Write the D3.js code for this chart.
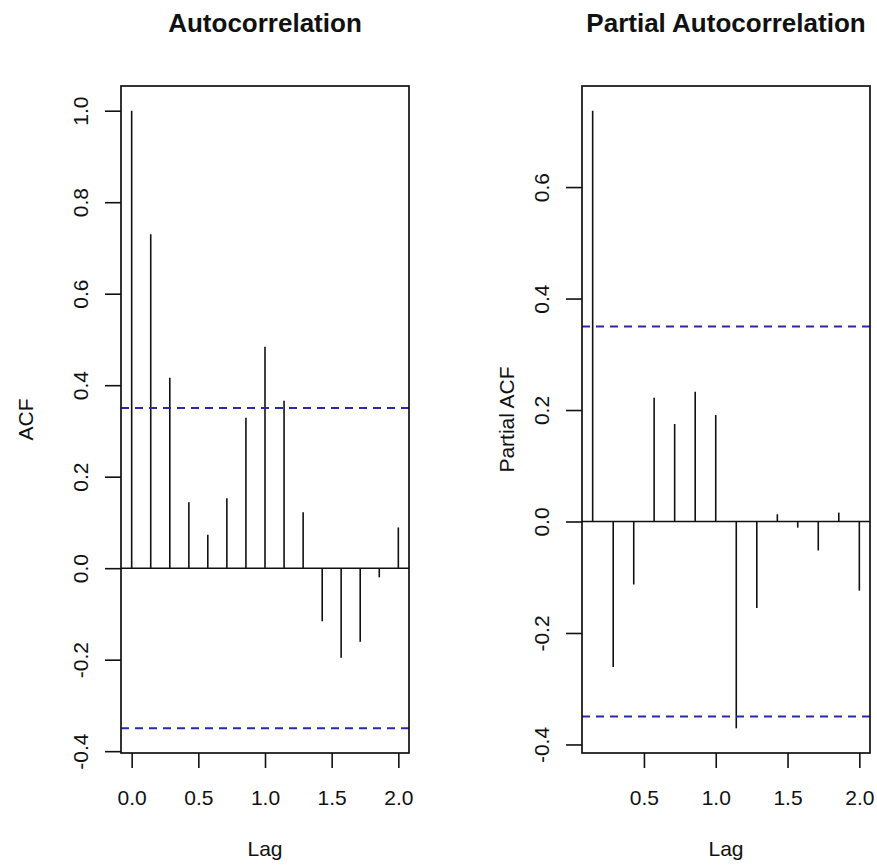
<!DOCTYPE html>
<html>
<head>
<meta charset="utf-8">
<script src="https://cdn.jsdelivr.net/npm/d3@7"></script>
<style>
  body { margin: 0; background: #fff; }
  text { font-family: Arial, "Liberation Sans", sans-serif; fill: #111; }
</style>
</head>
<body>
<div id="chart"></div>
<script>
// values
var acfLags = [0, 0.143, 0.286, 0.429, 0.571, 0.714, 0.857, 1.0, 1.143, 1.286, 1.429, 1.571, 1.714, 1.857, 2.0];
var acfValues = [1.0, 0.730, 0.416, 0.144, 0.073, 0.153, 0.329, 0.484, 0.366, 0.122, -0.116, -0.196, -0.161, -0.020, 0.089];
var pacfLags = [0.143, 0.286, 0.429, 0.571, 0.714, 0.857, 1.0, 1.143, 1.286, 1.429, 1.571, 1.714, 1.857, 2.0];
var pacfValues = [0.737, -0.261, -0.113, 0.222, 0.175, 0.233, 0.191, -0.371, -0.155, 0.013, -0.011, -0.052, 0.016, -0.124];
var confLimit = 0.35;
var lagTicks = [0, 0.5, 1.0, 1.5, 2.0];
var pacfLagTicks = [0.5, 1.0, 1.5, 2.0];
var acfTicks = [-0.4, -0.2, 0.0, 0.2, 0.4, 0.6, 0.8, 1.0];
var pacfTicks = [-0.4, -0.2, 0.0, 0.2, 0.4, 0.6];

var svg = d3.select("#chart").append("svg")
  .attr("width", 877)
  .attr("height", 866);

svg.append("rect").attr("width", 877).attr("height", 866).attr("fill", "#fff");

// R style range: data range widened by 4% on each side
function padded(vals) {
  var ext = d3.extent(vals);
  var d = (ext[1] - ext[0]) * 0.04;
  return [ext[0] - d, ext[1] + d];
}

function drawPanel(opt) {
  var left = opt.left, top = 86, w = 288, h = 667;
  var g = svg.append("g").attr("transform", "translate(" + left + "," + top + ")");

  var x = d3.scaleLinear()
    .domain(padded(opt.lags))
    .range([0, w]);
  var y = d3.scaleLinear()
    .domain(padded(opt.values.concat([confLimit, -confLimit])))
    .range([h, 0]);

  var fmt = function(d) { return d.toFixed(1); };

  // y axis
  var yAxis = g.append("g")
    .call(d3.axisLeft(y).tickValues(opt.yTicks).tickSize(16).tickSizeOuter(0).tickFormat(fmt));
  yAxis.selectAll("line").attr("stroke", "#111").attr("stroke-width", 1.6);
  yAxis.select(".domain").attr("stroke", "none");
  yAxis.selectAll("text")
    .attr("x", null).attr("dy", null)
    .attr("text-anchor", "middle")
    .attr("font-size", "21px")
    .attr("transform", "translate(-33,0) rotate(-90)");

  // x axis
  var xAxis = g.append("g")
    .attr("transform", "translate(0," + h + ")")
    .call(d3.axisBottom(x).tickValues(opt.xTicks).tickSize(15).tickSizeOuter(0).tickFormat(fmt));
  xAxis.selectAll("line").attr("stroke", "#111").attr("stroke-width", 1.6);
  xAxis.select(".domain").attr("stroke", "none");
  xAxis.selectAll("text")
    .attr("y", 52).attr("dy", null)
    .attr("font-size", "21px");

  // zero line
  g.append("line")
    .attr("x1", 0).attr("x2", w)
    .attr("y1", y(0)).attr("y2", y(0))
    .attr("stroke", "#111").attr("stroke-width", 1.6);

  // spikes
  g.selectAll(".spike")
    .data(opt.values)
    .enter().append("line")
      .attr("class", "spike")
      .attr("x1", function(d, i) { return x(opt.lags[i]); })
      .attr("x2", function(d, i) { return x(opt.lags[i]); })
      .attr("y1", y(0))
      .attr("y2", function(d) { return y(d); })
      .attr("stroke", "#111")
      .attr("stroke-width", 1.6);

  // confidence bounds
  g.selectAll(".clim")
    .data([confLimit, -confLimit])
    .enter().append("line")
      .attr("class", "clim")
      .attr("x1", 0).attr("x2", w)
      .attr("y1", function(d) { return y(d); })
      .attr("y2", function(d) { return y(d); })
      .attr("stroke", "#2a2aa8")
      .attr("stroke-width", 2)
      .attr("stroke-dasharray", "8,6");

  // box
  g.append("rect")
    .attr("width", w).attr("height", h)
    .attr("fill", "none")
    .attr("stroke", "#111")
    .attr("stroke-width", 1.7);

  // title
  svg.append("text")
    .text(opt.title)
    .attr("x", left + w / 2)
    .attr("y", 32)
    .attr("text-anchor", "middle")
    .attr("font-weight", "bold")
    .attr("font-size", "26px");

  // axis labels
  svg.append("text")
    .text("Lag")
    .attr("x", left + w / 2)
    .attr("y", 856)
    .attr("text-anchor", "middle")
    .attr("font-size", "21px");

  svg.append("text")
    .text(opt.yLabel)
    .attr("text-anchor", "middle")
    .attr("font-size", "21px")
    .attr("transform", "translate(" + (left - opt.labelGap) + "," + (top + h / 2) + ") rotate(-90)");
}

drawPanel({left: 121, title: "Autocorrelation", yLabel: "ACF", labelGap: 88,
  lags: acfLags, values: acfValues, xTicks: lagTicks, yTicks: acfTicks});
drawPanel({left: 582, title: "Partial Autocorrelation", yLabel: "Partial ACF", labelGap: 68,
  lags: pacfLags, values: pacfValues, xTicks: pacfLagTicks, yTicks: pacfTicks});
</script>
</body>
</html>
